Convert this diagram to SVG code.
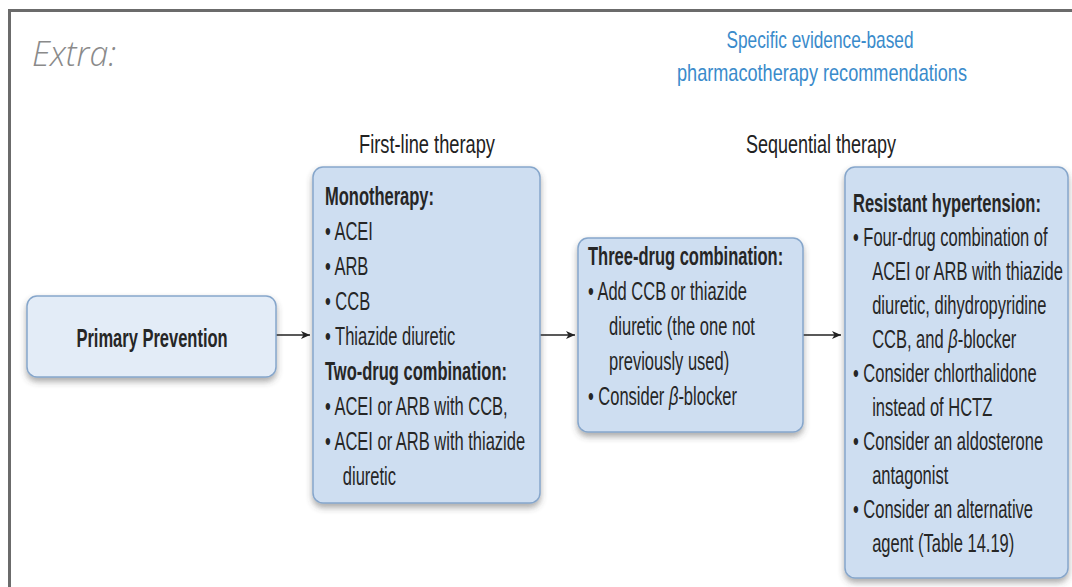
<svg xmlns="http://www.w3.org/2000/svg" width="1072" height="587" viewBox="0 0 1072 587">
<style>
.box{fill:#cedef1;stroke:#86a6cb;stroke-width:1.5}
.box0{fill:#e3ecf7;stroke:#86a6cb;stroke-width:1.5}
.t{font-family:"Liberation Sans",Arial,sans-serif;font-size:25px;fill:#262626}
.b{font-weight:bold}
.h{font-family:"Liberation Sans",Arial,sans-serif;font-size:26px;fill:#222}
.blue{font-family:"Liberation Sans",Arial,sans-serif;font-size:24px;fill:#3a8bcb}
.conn{stroke:#222;stroke-width:1.6;fill:none}
</style>
<defs>
<filter id="sh" x="-10%" y="-10%" width="120%" height="125%">
<feDropShadow dx="0" dy="4" stdDeviation="3" flood-color="#444" flood-opacity="0.45"/>
</filter>
<marker id="ah" markerWidth="10" markerHeight="10" refX="9" refY="5" orient="auto" markerUnits="userSpaceOnUse">
<path d="M0,1 L9,5 L0,9 L2.5,5 Z" fill="#222"/>
</marker>
</defs>
<rect width="1072" height="587" fill="#ffffff"/>
<path d="M9.5,587 V10.5 H1072" fill="none" stroke="#6b6b6b" stroke-width="3"/>
<text x="32" y="66" font-family="'Open Sans',sans-serif" font-style="italic" font-weight="300" font-size="34" fill="#8a8a8a">Extra:</text>
<g id="title">
<text class="blue" x="820" y="48" text-anchor="middle" textLength="187" lengthAdjust="spacingAndGlyphs">Specific evidence-based</text>
<text class="blue" x="822" y="81" text-anchor="middle" textLength="290" lengthAdjust="spacingAndGlyphs">pharmacotherapy recommendations</text>
</g>
<g id="col-headers">
<text class="h" x="427" y="153" text-anchor="middle" textLength="136" lengthAdjust="spacingAndGlyphs">First-line therapy</text>
<text class="h" x="821" y="153" text-anchor="middle" textLength="150" lengthAdjust="spacingAndGlyphs">Sequential therapy</text>
</g>
<g id="connectors">
<line class="conn" x1="276" y1="335" x2="310" y2="335" marker-end="url(#ah)"/>
<line class="conn" x1="540" y1="335" x2="575" y2="335" marker-end="url(#ah)"/>
<line class="conn" x1="803" y1="335" x2="841" y2="335" marker-end="url(#ah)"/>
</g>
<g id="primary-prevention">
<rect class="box0" x="27" y="296" width="249" height="81" rx="10" filter="url(#sh)"/>
<text class="t b" transform="translate(152,347) scale(0.66,1)" text-anchor="middle">Primary Prevention</text>
</g>
<g id="first-line">
<rect class="box" x="313" y="167" width="227" height="336" rx="10" filter="url(#sh)"/>
<g transform="translate(325,0) scale(0.66,1)">
<text class="t b" x="0" y="205">Monotherapy:</text>
<text class="t" x="0" y="240">• ACEI</text>
<text class="t" x="0" y="275">• ARB</text>
<text class="t" x="0" y="310">• CCB</text>
<text class="t" x="0" y="345">• Thiazide diuretic</text>
<text class="t b" x="0" y="380">Two-drug combination:</text>
<text class="t" x="0" y="415">• ACEI or ARB with CCB,</text>
<text class="t" x="0" y="450">• ACEI or ARB with thiazide</text>
<text class="t" x="27" y="485">diuretic</text>
</g>
</g>
<g id="three-drug">
<rect class="box" x="578" y="238" width="225" height="194" rx="10" filter="url(#sh)"/>
<g transform="translate(588,0) scale(0.66,1)">
<text class="t b" x="0" y="265">Three-drug combination:</text>
<text class="t" x="0" y="300">• Add CCB or thiazide</text>
<text class="t" x="32" y="335">diuretic (the one not</text>
<text class="t" x="32" y="370">previously used)</text>
<text class="t" x="0" y="405">• Consider <tspan font-style="italic">β</tspan>-blocker</text>
</g>
</g>
<g id="resistant">
<rect class="box" x="845" y="167" width="223" height="411" rx="10" filter="url(#sh)"/>
<g transform="translate(853,0) scale(0.66,1)">
<text class="t b" x="0" y="212">Resistant hypertension:</text>
<text class="t" x="0" y="246">• Four-drug combination of</text>
<text class="t" x="29" y="280">ACEI or ARB with thiazide</text>
<text class="t" x="29" y="314">diuretic, dihydropyridine</text>
<text class="t" x="29" y="348">CCB, and <tspan font-style="italic">β</tspan>-blocker</text>
<text class="t" x="0" y="382">• Consider chlorthalidone</text>
<text class="t" x="29" y="416">instead of HCTZ</text>
<text class="t" x="0" y="450">• Consider an aldosterone</text>
<text class="t" x="29" y="484">antagonist</text>
<text class="t" x="0" y="518">• Consider an alternative</text>
<text class="t" x="29" y="552">agent (Table 14.19)</text>
</g>
</g>
</svg>
